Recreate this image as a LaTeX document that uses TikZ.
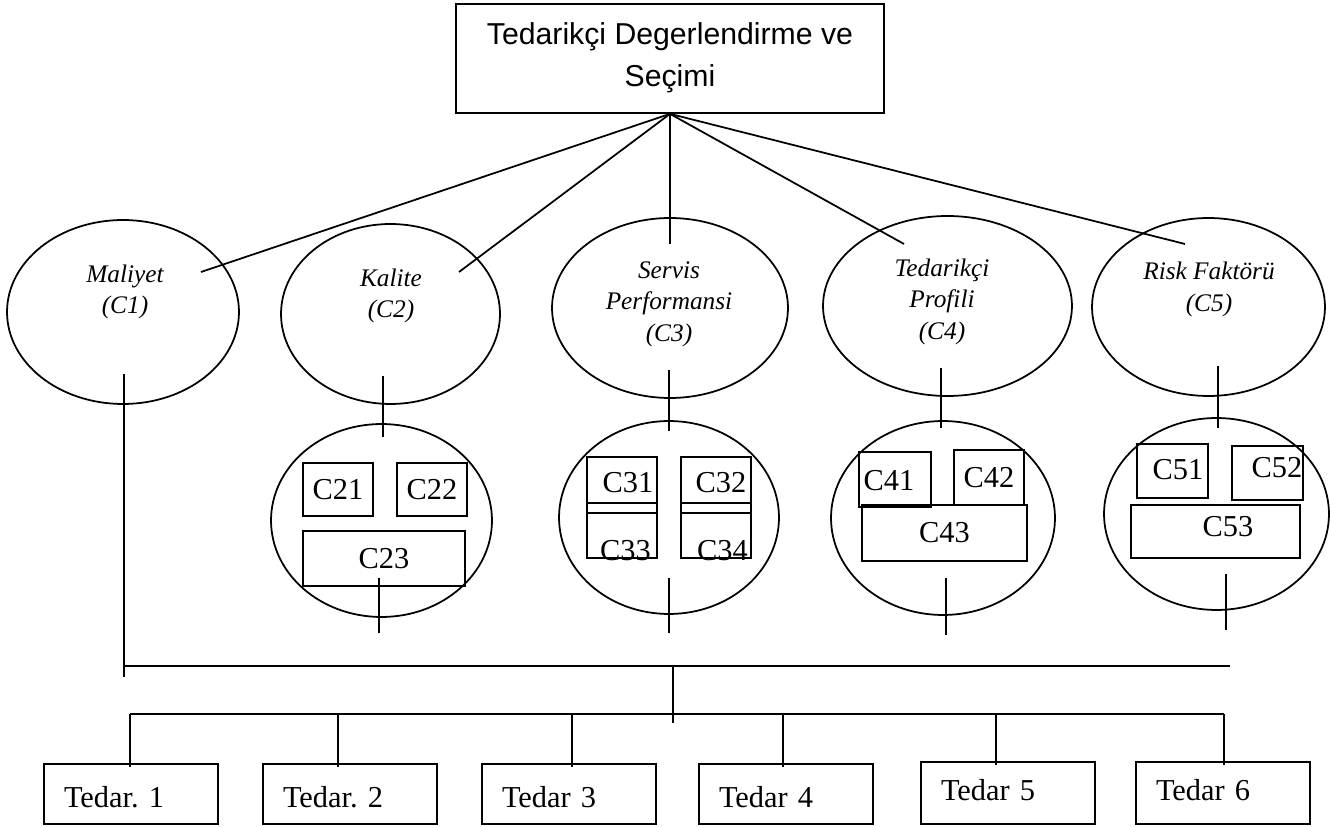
\documentclass[tikz,border=0pt]{standalone}
\usepackage{fontspec}
\setmainfont{Liberation Serif}
\newfontfamily\titlesans{Liberation Sans}
\usetikzlibrary{shapes.geometric}
\newcommand\fntC{\fontsize{17.3}{20}\selectfont}
\newcommand\fntE{\itshape\fontsize{14.4}{17.9}\selectfont}
\newcommand\fntT{\titlesans\fontsize{17.2}{24.4}\selectfont}
\begin{document}
\begin{tikzpicture}[x=0.02cm,y=-0.02cm,
  ln/.style={line width=1pt},
  bus/.style={line width=1.5pt},
  ell/.style={draw,ellipse,line width=1pt,inner sep=0pt},
  cbox/.style={draw,rectangle,line width=1pt,inner sep=0pt,font=\fntC},
  ctext/.style={inner sep=0pt,font=\fntC},
  tbox/.style={draw,rectangle,line width=1pt,inner xsep=0.4cm,inner ysep=0pt,minimum width=3.48cm,text width=2.68cm,align=left,font=\fntC},
  tboxlow/.style={tbox,minimum height=1.2cm,text height=15.3pt,text depth=0pt},
  tboxhigh/.style={tbox,minimum height=1.24cm,text height=11.9pt,text depth=3.4pt},
  elab/.style={align=center,inner sep=0pt,font=\fntE},
  titlebox/.style={draw,rectangle,line width=1pt,inner sep=0pt,minimum width=8.56cm,minimum height=2.18cm}]
\useasboundingbox (0,0) rectangle (1330,827);

% title
\node[titlebox] (root) at (670,58.5) {};
\node[font=\fntT,align=center,inner sep=0pt] (roottxt) at (670,57.8) {Tedarik\c{c}i Degerlendirme ve\\Se\c{c}imi};

% criteria ellipses
\node[ell,minimum width=4.64cm,minimum height=3.68cm] (e1) at (123,312) {};
\node[ell,minimum width=4.38cm,minimum height=3.6cm] (e2) at (390.5,314) {};
\node[ell,minimum width=4.72cm,minimum height=3.6cm] (e3) at (670,308) {};
\node[ell,minimum width=4.98cm,minimum height=3.6cm] (e4) at (947.5,306) {};
\node[ell,minimum width=4.66cm,minimum height=3.56cm] (e5) at (1208.5,307) {};

\node[elab] (l1) at (125,292) {Maliyet\\(C1)};
\node[elab] (l2) at (391,296) {Kalite\\(C2)};
\node[elab] (l3) at (669,304) {Servis\\Performansi\\(C3)};
\node[elab] (l4) at (942,301.5) {Tedarik\c{c}i\\Profili\\(C4)};
\node[elab] (l5) at (1209,289.5) {Risk Fakt\"{o}r\"{u}\\(C5)};

% sub-criteria ellipses
\node[ell,minimum width=4.42cm,minimum height=3.86cm] (g2) at (381.5,520.5) {};
\node[ell,minimum width=4.4cm,minimum height=3.86cm] (g3) at (669,517.5) {};
\node[ell,minimum width=4.48cm,minimum height=3.88cm] (g4) at (943,518) {};
\node[ell,minimum width=4.5cm,minimum height=3.84cm] (g5) at (1216.5,514) {};

% sub-criteria boxes
\node[cbox,minimum width=1.4cm,minimum height=1.06cm] (c21) at (338,489.5) {C21};
\node[cbox,minimum width=1.4cm,minimum height=1.06cm] (c22) at (432,489.5) {C22};
\node[cbox,minimum width=3.24cm,minimum height=1.1cm] (c23) at (384,558.5) {C23};

\node[cbox,minimum width=1.4cm,minimum height=1.12cm] (c31) at (622,485) {};
\node[cbox,minimum width=1.4cm,minimum height=1.12cm] (c32) at (716,485) {};
\node[cbox,minimum width=1.4cm,minimum height=1.1cm] (c33) at (622,530.5) {};
\node[cbox,minimum width=1.4cm,minimum height=1.1cm] (c34) at (716,530.5) {};
\node[ctext] (c31t) at (628,483) {C31};
\node[ctext] (c32t) at (721,483) {C32};
\node[ctext] (c33t) at (625.5,551) {C33};
\node[ctext] (c34t) at (722.5,551) {C34};

\node[cbox,minimum width=1.44cm,minimum height=1.1cm] (c41) at (895,479.5) {};
\node[ctext] (c41t) at (889,481) {C41};
\node[cbox,minimum width=1.4cm,minimum height=1.1cm] (c42) at (989,477.5) {C42};
\node[cbox,minimum width=3.3cm,minimum height=1.12cm] (c43) at (944.5,533) {C43};

\node[cbox,minimum width=1.42cm,minimum height=1.08cm] (c51) at (1172.5,471) {};
\node[cbox,minimum width=1.42cm,minimum height=1.08cm] (c52) at (1267.5,473) {};
\node[cbox,minimum width=3.38cm,minimum height=1.06cm] (c53) at (1215.5,531.5) {};
\node[ctext] (c51t) at (1178,470) {C51};
\node[ctext] (c52t) at (1277,468) {C52};
\node[ctext] (c53t) at (1228,527) {C53};

% supplier boxes
\node[tboxlow] (t1) at (131,794) {Tedar.\ 1};
\node[tboxlow] (t2) at (350,794) {Tedar.\ 2};
\node[tboxlow] (t3) at (569,794) {Tedar 3};
\node[tboxlow] (t4) at (786,794) {Tedar 4};
\node[tboxhigh] (t5) at (1008,793) {Tedar 5};
\node[tboxhigh] (t6) at (1223,793) {Tedar 6};

% connectors from the goal
\coordinate (a1) at (201,272);
\coordinate (a2) at (459,272);
\coordinate (a3) at (670,244);
\coordinate (a4) at (904,244);
\coordinate (a5) at (1185,244);
\draw[ln] (root.south) -- (a1);
\draw[ln] (root.south) -- (a2);
\draw[ln] (root.south) -- (a3);
\draw[ln] (root.south) -- (a4);
\draw[ln] (root.south) -- (a5);

% stubs between levels
\coordinate (s1a) at (124,374);  \coordinate (s1b) at (124,677);
\coordinate (s2a) at (383,376);  \coordinate (s2b) at (383,437);
\coordinate (s3a) at (669,370);  \coordinate (s3b) at (669,431);
\coordinate (s4a) at (941,368);  \coordinate (s4b) at (941,428);
\coordinate (s5a) at (1218,366); \coordinate (s5b) at (1218,428);
\draw[ln] (s1a) -- (s1b);
\draw[ln] (s2a) -- (s2b);
\draw[ln] (s3a) -- (s3b);
\draw[ln] (s4a) -- (s4b);
\draw[ln] (s5a) -- (s5b);

\coordinate (u2a) at (379,578);  \coordinate (u2b) at (379,633);
\coordinate (u3a) at (669,578);  \coordinate (u3b) at (669,633);
\coordinate (u4a) at (946,578);  \coordinate (u4b) at (946,635);
\coordinate (u5a) at (1226,574); \coordinate (u5b) at (1226,630);
\draw[ln] (u2a) -- (u2b);
\draw[ln] (u3a) -- (u3b);
\draw[ln] (u4a) -- (u4b);
\draw[ln] (u5a) -- (u5b);

% buses
\coordinate (b1l) at (124,666); \coordinate (b1r) at (1230,666);
\draw[bus] (b1l) -- (b1r);
\coordinate (vm1) at (673,666); \coordinate (vm2) at (673,723);
\draw[ln] (vm1) -- (vm2);
\coordinate (b2l) at (130,714); \coordinate (b2r) at (1224,714);
\draw[bus] (b2l) -- (b2r);

\coordinate (d1) at (130,714);
\coordinate (d2) at (338,714);
\coordinate (d3) at (572,714);
\coordinate (d4) at (783,714);
\coordinate (d5) at (996,714);
\coordinate (d6) at (1224,714);
\draw[ln] (d1) -- (d1 |- t1.north) -- ++(0,4);
\draw[ln] (d2) -- (d2 |- t2.north) -- ++(0,4);
\draw[ln] (d3) -- (d3 |- t3.north) -- ++(0,4);
\draw[ln] (d4) -- (d4 |- t4.north) -- ++(0,4);
\draw[ln] (d5) -- (d5 |- t5.north) -- ++(0,4);
\draw[ln] (d6) -- (d6 |- t6.north) -- ++(0,4);
\end{tikzpicture}
\end{document}
